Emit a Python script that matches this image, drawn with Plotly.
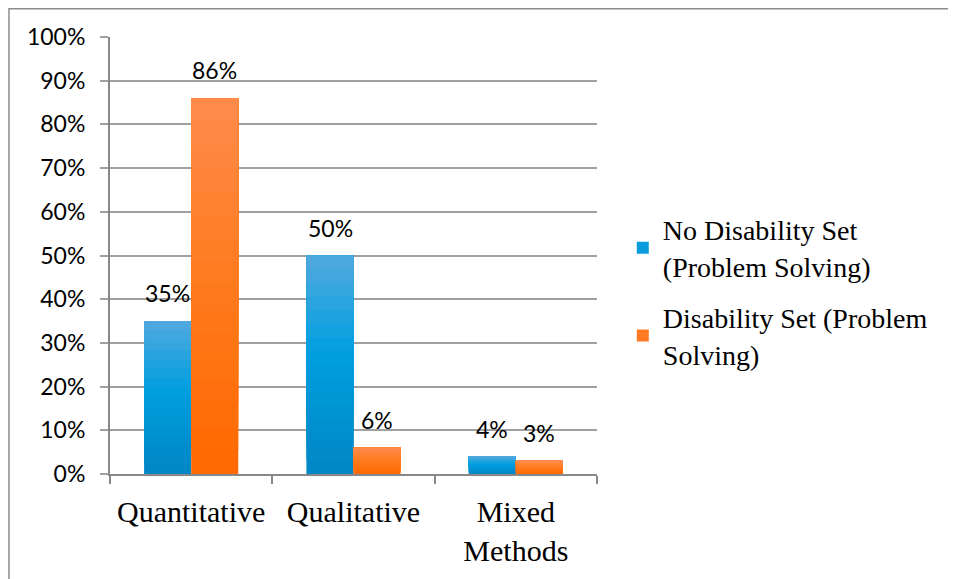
import plotly.graph_objects as go

categories = ["Quantitative", "Qualitative", "Mixed<br>Methods"]
series_names = ["No Disability Set<br>(Problem Solving)", "Disability Set (Problem<br>Solving)"]
no_disability = [0.35, 0.50, 0.04]
disability = [0.86, 0.06, 0.03]
y_tick_values = [i / 10 for i in range(11)]
y_tick_labels = [f"{i * 10}%" for i in range(11)]

series_values = [no_disability, disability]
# gradient stops (t=0 top of bar, t=1 bottom of bar)
gradients = [
    [(0.0, (0x52, 0xa9, 0xde)), (0.45, (0x00, 0x9f, 0xe0)), (1.0, (0x00, 0x86, 0xc6))],
    [(0.0, (0xff, 0x8b, 0x4c)), (0.5, (0xff, 0x7a, 0x1c)), (1.0, (0xff, 0x69, 0x00))],
]
legend_colors = ["#0a9bdc", "#ff7a22"]
N_SEG = 16


def grad_color(stops, t):
    for (t0, c0), (t1, c1) in zip(stops[:-1], stops[1:]):
        if t0 <= t <= t1:
            f = (t - t0) / (t1 - t0) if t1 > t0 else 0
            c = [round(a + (b - a) * f) for a, b in zip(c0, c1)]
            return "rgb(%d,%d,%d)" % tuple(c)
    c = stops[-1][1]
    return "rgb(%d,%d,%d)" % c


fig = go.Figure()
for k, (name, vals, stops) in enumerate(zip(series_names, series_values, gradients)):
    for i in range(N_SEG):
        t = 1 - (i + 0.5) / N_SEG
        # each layer runs from its start up to the bar top; later layers cover the
        # upper part, so no seams appear between colour steps
        fig.add_trace(go.Bar(
            x=categories,
            y=[v * (N_SEG - i) / N_SEG for v in vals],
            base=[v * i / N_SEG for v in vals],
            name=name,
            offsetgroup=str(k),
            marker=dict(color=grad_color(stops, t), line=dict(width=0)),
            legendgroup=name,
            showlegend=False,
            hoverinfo="skip",
        ))
    # legend entry
    fig.add_trace(go.Bar(
        x=[None], y=[None], name=name, offsetgroup=str(k),
        marker=dict(color=legend_colors[k], line=dict(width=0)),
        legendgroup=name, showlegend=True,
    ))

annotations = []
shifts = [-23.5, 23.5]
for vals, xs in zip(series_values, shifts):
    for c, v in zip(categories, vals):
        annotations.append(dict(
            x=c, y=v, xref="x", yref="y", text=f"{round(v * 100)}%",
            showarrow=False, xanchor="center", yanchor="bottom",
            xshift=xs, yshift=12,
            font=dict(family="Lato", size=23, color="#000000"),
        ))

fig.update_layout(
    width=948, height=571, autosize=False,
    margin=dict(l=102, r=359, t=29, b=105),
    paper_bgcolor="white", plot_bgcolor="white",
    barmode="group", bargap=0.42, bargroupgap=0,
    showlegend=True,
    legend=dict(
        x=1.053, y=0.616, xanchor="left", yanchor="top",
        font=dict(family="Liberation Serif", size=28, color="#000000"),
        traceorder="grouped", tracegroupgap=12,
        bgcolor="rgba(0,0,0,0)", itemwidth=30,
    ),
    annotations=annotations,
    shapes=[dict(
        type="rect", xref="paper", yref="paper",
        x0=-0.2074, x1=1.75, y0=-0.26, y1=1.0646,
        line=dict(color="#8c8c8c", width=1.5), fillcolor="rgba(0,0,0,0)",
        layer="above",
    )],
)

fig.update_xaxes(
    type="category", tickson="boundaries", ticks="outside", ticklen=8,
    tickcolor="#888888", tickwidth=2,
    showline=True, linecolor="#888888", linewidth=2,
    showgrid=False,
    tickfont=dict(family="Liberation Serif", size=30, color="#000000"),
    ticklabelstandoff=10,
)
fig.update_yaxes(
    range=[0, 1], tickvals=y_tick_values, ticktext=y_tick_labels,
    ticks="outside", ticklen=8, tickcolor="#a0a0a0", tickwidth=1.5,
    showline=True, linecolor="#888888", linewidth=2,
    showgrid=True, gridcolor="#a0a0a0", gridwidth=1.5,
    zeroline=False,
    tickfont=dict(family="Lato", size=23, color="#000000"),
    ticklabelstandoff=10,
)

fig.write_html("out.html")
